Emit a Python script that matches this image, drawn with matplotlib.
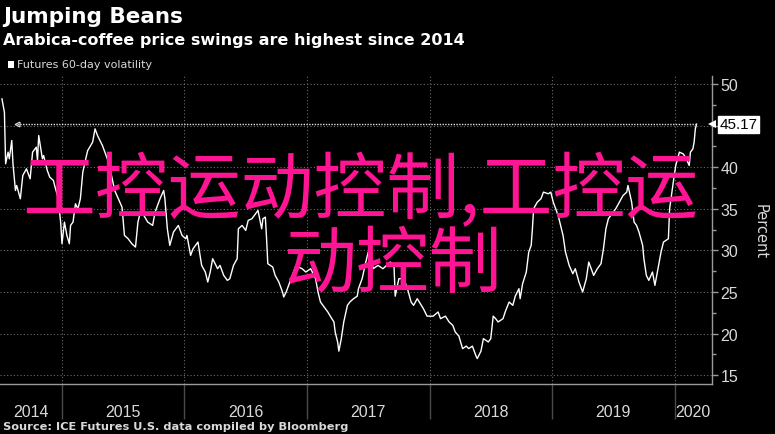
import matplotlib.pyplot as plt
from matplotlib.patches import Rectangle
from matplotlib.transforms import blended_transform_factory

# Arabica coffee futures 60-day volatility (decimal year, percent)
years = [2014.51, 2014.53, 2014.54, 2014.56, 2014.57, 2014.59, 2014.60, 2014.62, 2014.63, 2014.66,
         2014.68, 2014.71, 2014.74, 2014.76, 2014.79, 2014.80, 2014.81, 2014.84, 2014.85, 2014.88,
         2014.90, 2014.93, 2014.94, 2014.97, 2014.99, 2015.00, 2015.02, 2015.04, 2015.06, 2015.07,
         2015.09, 2015.11, 2015.13, 2015.15, 2015.17, 2015.20, 2015.21, 2015.25, 2015.27, 2015.29,
         2015.33, 2015.35, 2015.38, 2015.41, 2015.43, 2015.46, 2015.49, 2015.51, 2015.54, 2015.57,
         2015.60, 2015.62, 2015.64, 2015.66, 2015.70, 2015.74, 2015.76, 2015.80, 2015.83, 2015.84,
         2015.86, 2015.88, 2015.91, 2015.95, 2015.98, 2016.01, 2016.02, 2016.05, 2016.07, 2016.11,
         2016.14, 2016.17, 2016.19, 2016.21, 2016.23, 2016.27, 2016.29, 2016.32, 2016.35, 2016.37,
         2016.40, 2016.43, 2016.44, 2016.47, 2016.50, 2016.52, 2016.55, 2016.58, 2016.60, 2016.63,
         2016.64, 2016.66, 2016.67, 2016.68, 2016.72, 2016.74, 2016.77, 2016.80, 2016.81, 2016.83,
         2016.85, 2016.88, 2016.91, 2016.93, 2016.96, 2016.99, 2017.03, 2017.07, 2017.09, 2017.11,
         2017.13, 2017.17, 2017.19, 2017.22, 2017.23, 2017.25, 2017.26, 2017.28, 2017.30, 2017.33,
         2017.35, 2017.38, 2017.41, 2017.42, 2017.45, 2017.48, 2017.50, 2017.52, 2017.54, 2017.58,
         2017.62, 2017.68, 2017.71, 2017.72, 2017.75, 2017.79, 2017.82, 2017.85, 2017.87, 2017.90,
         2017.95, 2017.98, 2018.03, 2018.07, 2018.09, 2018.13, 2018.16, 2018.19, 2018.21, 2018.24,
         2018.27, 2018.30, 2018.32, 2018.35, 2018.38, 2018.39, 2018.42, 2018.44, 2018.48, 2018.50,
         2018.52, 2018.54, 2018.56, 2018.60, 2018.62, 2018.65, 2018.68, 2018.70, 2018.73, 2018.74,
         2018.76, 2018.79, 2018.81, 2018.83, 2018.84, 2018.85, 2018.88, 2018.91, 2018.93, 2018.97,
         2018.99, 2019.01, 2019.05, 2019.07, 2019.09, 2019.11, 2019.14, 2019.17, 2019.19, 2019.22,
         2019.25, 2019.28, 2019.30, 2019.33, 2019.34, 2019.37, 2019.40, 2019.42, 2019.44, 2019.46,
         2019.50, 2019.52, 2019.55, 2019.58, 2019.61, 2019.62, 2019.65, 2019.67, 2019.69, 2019.71,
         2019.74, 2019.75, 2019.77, 2019.79, 2019.82, 2019.84, 2019.86, 2019.89, 2019.91, 2019.95,
         2019.96, 2019.99, 2020.01, 2020.04, 2020.07, 2020.09, 2020.12, 2020.13, 2020.15, 2020.16,
         2020.17, 2020.18]
vol = [48.2, 46.6, 40.4, 41.8, 41.0, 43.2, 40.4, 37.2, 37.8, 36.2,
       39.0, 39.8, 38.6, 41.8, 42.4, 40.8, 43.8, 41.0, 41.4, 39.6,
       38.8, 38.4, 37.8, 36.2, 33.2, 30.8, 33.4, 31.8, 30.8, 33.0,
       33.4, 35.6, 35.0, 36.2, 39.4, 41.4, 42.0, 43.0, 44.6, 43.8,
       42.6, 41.8, 40.6, 38.6, 37.2, 36.2, 35.2, 31.8, 31.4, 30.8,
       30.4, 33.4, 34.6, 34.4, 33.4, 33.0, 34.6, 36.2, 37.2, 36.2,
       32.6, 30.6, 32.2, 33.0, 31.8, 31.4, 31.8, 29.4, 30.2, 31.0,
       28.2, 27.4, 26.2, 27.4, 29.0, 27.8, 28.2, 27.0, 26.4, 26.6,
       28.2, 29.0, 32.6, 33.0, 32.4, 33.6, 33.8, 34.4, 34.8, 32.6,
       33.8, 34.0, 31.4, 28.4, 28.0, 27.0, 26.2, 25.0, 24.4, 25.0,
       25.8, 27.0, 28.2, 28.0, 27.8, 27.4, 27.8, 26.6, 25.0, 23.8,
       23.4, 22.6, 22.1, 21.4, 20.2, 19.0, 17.9, 19.4, 21.4, 23.4,
       23.8, 24.2, 24.5, 25.4, 26.6, 28.6, 29.8, 29.4, 27.8, 28.2,
       27.8, 28.6, 28.2, 24.5, 26.6, 26.6, 25.4, 23.8, 23.4, 24.2,
       23.0, 22.1, 22.1, 22.6, 21.8, 22.1, 21.4, 21.0, 20.2, 19.7,
       18.2, 18.5, 18.2, 18.5, 17.3, 17.0, 17.9, 19.4, 19.0, 19.4,
       22.1, 21.8, 21.4, 21.8, 22.7, 23.8, 23.4, 24.5, 25.4, 24.2,
       26.0, 27.4, 29.8, 30.6, 32.6, 35.0, 35.8, 36.2, 37.0, 36.8,
       37.0, 35.8, 34.2, 33.0, 31.8, 29.8, 28.2, 27.2, 27.8, 26.2,
       25.0, 26.6, 28.6, 27.4, 27.0, 27.8, 28.4, 30.2, 32.6, 33.8,
       34.6, 35.0, 35.8, 36.6, 37.0, 37.8, 35.8, 33.4, 33.0, 32.2,
       30.6, 29.0, 27.0, 26.4, 27.4, 25.8, 27.4, 29.8, 31.0, 31.4,
       35.0, 38.2, 40.2, 41.8, 41.6, 41.2, 40.2, 41.8, 42.2, 43.0,
       44.6, 45.17]

last_value = 45.17
last_from = 2014.63
y_ticks = [15, 20, 25, 30, 35, 40, 45, 50]
year_starts = [2015, 2016, 2017, 2018, 2019, 2020]
year_labels = ['2014', '2015', '2016', '2017', '2018', '2019', '2020']

W, H = 775, 435
grey_txt = '#d9d9d9'
grid_col = '#6a6a6a'
num_font = ['Liberation Sans', 'DejaVu Sans']

fig = plt.figure(figsize=(W / 100, H / 100), dpi=100, facecolor='black')
ax = fig.add_axes([0, 50 / H, 712 / W, 308 / H])
ax.set_facecolor('black')

ax.plot(years, vol, color='white', lw=1.0)

x0, x1 = 2014.494, 2020.306
ax.set_xlim(x0, x1)
ax.set_ylim(13.95, 50.95)

# dotted reference line at the last value
ax.hlines(last_value, last_from, years[-1], color='#e0e0e0', lw=1.0, linestyle=(0, (1, 1)))
ax.plot([last_from], [last_value], marker='<', ms=3.5, color='#e0e0e0', mfc='none', mew=0.8)

# grid and ticks; the value tag hides the tick label next to it
ax.set_yticks(y_ticks)
ax.set_yticklabels(['' if abs(t - last_value) < 2 else str(t) for t in y_ticks],
                   fontfamily=num_font)
ax.set_yticks([v + 2.5 for v in y_ticks[:-1]], minor=True)
ax.set_xticks(year_starts)
ax.set_xticklabels([])
ax.grid(True, which='major', color=grid_col, lw=0.8, linestyle=(0, (1, 2)))

for s in ['left', 'top']:
    ax.spines[s].set_visible(False)
for s in ['right', 'bottom']:
    ax.spines[s].set_color('#9a9a9a')
    ax.spines[s].set_linewidth(1.0)

ax.yaxis.tick_right()
ax.tick_params(axis='y', which='major', colors='#9a9a9a', labelcolor=grey_txt,
               length=4, width=1, labelsize=11.5, pad=2)
ax.tick_params(axis='y', which='minor', colors='#9a9a9a', length=3, width=1)
ax.tick_params(axis='x', which='major', colors='#4a4a4a', length=25, width=1)

# year labels centred in each year span
label_pos = [(x0 + 2015) / 2] + [y + 0.5 for y in year_starts[:-1]] + [(2020 + x1) / 2]
trx = blended_transform_factory(ax.transData, ax.transAxes)
for xp, lab in zip(label_pos, year_labels):
    ax.text(xp, -0.088, lab, transform=trx, ha='center', va='center', color=grey_txt,
            fontsize=11.5, fontfamily=num_font)

# last value tag on the right axis
tr_y = blended_transform_factory(ax.transAxes, ax.transData)
ax.annotate(f'{last_value:.2f}', xy=(1.0, last_value), xycoords=tr_y,
            xytext=(5.5, 0), textcoords='offset points', ha='left', va='center',
            color='black', fontsize=11, fontfamily=num_font, zorder=5,
            bbox=dict(boxstyle='square,pad=0.1', fc='white', ec='white'),
            annotation_clip=False)
ax.plot([1.0], [last_value], transform=tr_y, marker='<', ms=6, color='white',
        clip_on=False, markeredgewidth=0, zorder=5)

fig.text(760 / W, 1 - 232 / H, 'Percent', rotation=270, ha='center', va='center',
         color=grey_txt, fontsize=10.5)

# titles
fig.text(3 / W, 1 - 17 / H, 'Jumping Beans', color='white', fontsize=15.5,
         fontweight='bold', va='center', ha='left')
fig.text(3 / W, 1 - 41 / H, 'Arabica-coffee price swings are highest since 2014',
         color='white', fontsize=11.5, fontweight='bold', va='center', ha='left')
fig.patches.append(Rectangle((8 / W, 1 - 69 / H), 6 / W, 7 / H, transform=fig.transFigure,
                             facecolor='white', edgecolor='none'))
fig.text(17 / W, 1 - 65.5 / H, 'Futures 60-day volatility', color=grey_txt, fontsize=8,
         va='center', ha='left')
fig.text(3 / W, 1 - 427 / H, 'Source: ICE Futures U.S. data compiled by Bloomberg',
         color=grey_txt, fontsize=8.2, fontweight='bold', va='center', ha='left')

# overlay text
cjk = ['Noto Sans CJK SC', 'DejaVu Sans']
fig.text(22 / W, 1 - 192 / H, '工控运动控制,工控运', color='#ff1493', fontsize=52.5,
         fontfamily=cjk, va='center', ha='left')
fig.text(283 / W, 1 - 266 / H, '动控制', color='#ff1493', fontsize=52.5,
         fontfamily=cjk, va='center', ha='left')

fig.savefig('out.png', dpi=100, facecolor='black')
